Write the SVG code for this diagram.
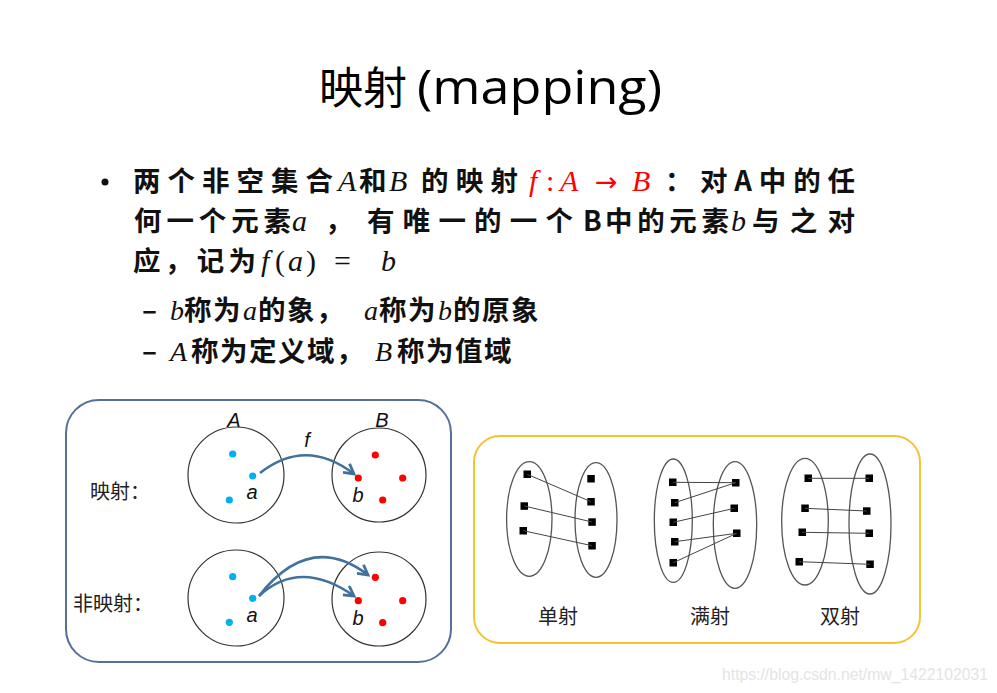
<svg xmlns="http://www.w3.org/2000/svg" width="997" height="693" viewBox="0 0 997 693">
<style>
.cjk{font-family:"Noto Sans CJK SC","Noto Sans",sans-serif;font-weight:700;}
.body{font-size:27.5px;fill:#111;}
.sub{font-size:27.5px;fill:#111;}
.m{font-family:"Liberation Serif","DejaVu Serif",serif;font-style:italic;font-weight:400;font-size:30px;}
.up{font-family:"Liberation Serif","DejaVu Serif",serif;font-style:normal;font-weight:400;font-size:30px;}
.msub{font-family:"Liberation Serif","DejaVu Serif",serif;font-style:italic;font-weight:400;font-size:28px;}
.red{fill:#ff0000;}
.lab{font-family:"Liberation Sans",Arial,sans-serif;font-style:italic;font-size:20px;fill:#111;}
.cap{font-family:"Noto Sans CJK SC",sans-serif;font-size:20px;fill:#222;}
.set{fill:none;stroke:#333;stroke-width:1.2;}
.ell{fill:none;stroke:#555;stroke-width:1.3;}
.bl{fill:#00b0f0;}
.rd{fill:#ff0000;}
.sq{fill:#000;}
.arr{fill:none;stroke:#41719c;stroke-width:2.6;marker-end:url(#ah);}
.ln{stroke:#444;stroke-width:1;}
</style>
<defs>
<marker id="ah" viewBox="0 0 12 12" refX="10" refY="6" markerWidth="13" markerHeight="13" markerUnits="userSpaceOnUse" orient="auto">
<path d="M1,1 L10,6 L1,11" fill="none" stroke="#41719c" stroke-width="2.6" stroke-linejoin="miter"/>
</marker>
</defs>
<rect width="997" height="693" fill="#fff"/>

<g id="title">
<text x="319" y="104" font-family="Noto Sans CJK SC,sans-serif" font-size="44" fill="#000">映射</text>
<text x="417" y="104" font-family="Open Sans,Liberation Sans,sans-serif" font-size="48" fill="#000" textLength="245" lengthAdjust="spacingAndGlyphs">(mapping)</text>
</g>

<g id="definition">
<circle cx="105" cy="182" r="3.5" fill="#111"/>
<text y="191" class="body">
<tspan x="133" class="cjk" textLength="200">两个非空集合</tspan>
<tspan x="338" class="m">A</tspan>
<tspan x="359" class="cjk">和</tspan>
<tspan x="389" class="m">B</tspan>
<tspan x="421" class="cjk" textLength="97">的映射</tspan>
<tspan x="529" class="m red">f</tspan>
<tspan x="546" class="up red">:</tspan>
<tspan x="560" class="m red">A</tspan>
<tspan x="595" font-family="DejaVu Sans,sans-serif" font-size="27" class="red">→</tspan>
<tspan x="632" class="m red">B</tspan>
<tspan x="665" class="cjk">：</tspan>
<tspan x="700" class="cjk" textLength="155">对A中的任</tspan>
</text>
<text y="231" class="body">
<tspan x="134" class="cjk" textLength="157">何一个元素</tspan>
<tspan x="292" class="m">a</tspan>
<tspan x="325" class="cjk">，</tspan>
<tspan x="367" class="cjk" textLength="206">有唯一的一个</tspan>
<tspan x="583" class="cjk">B</tspan>
<tspan x="605" class="cjk" textLength="124">中的元素</tspan>
<tspan x="731" class="m">b</tspan>
<tspan x="752" class="cjk" textLength="103">与之对</tspan>
</text>
<text y="271" class="body">
<tspan x="133" class="cjk" textLength="123">应，记为</tspan>
<tspan x="261" class="m">f</tspan>
<tspan x="275" class="up">(</tspan>
<tspan x="288" class="m">a</tspan>
<tspan x="306" class="up">)</tspan>
<tspan x="334" class="up">=</tspan>
<tspan x="381" class="m">b</tspan>
</text>
<text y="320" class="sub" letter-spacing="1.5">
<tspan x="142" class="cjk">–</tspan>
<tspan x="170" class="msub">b</tspan>
<tspan x="184" class="cjk">称为</tspan>
<tspan x="243" class="msub">a</tspan>
<tspan x="258" class="cjk">的象，</tspan>
<tspan x="364" class="msub">a</tspan>
<tspan x="379" class="cjk">称为</tspan>
<tspan x="438" class="msub">b</tspan>
<tspan x="453" class="cjk">的原象</tspan>
</text>
<text y="361" class="sub" letter-spacing="1.5">
<tspan x="142" class="cjk">–</tspan>
<tspan x="170" class="msub">A</tspan>
<tspan x="191" class="cjk">称为定义域，</tspan>
<tspan x="375" class="msub">B</tspan>
<tspan x="397" class="cjk">称为值域</tspan>
</text>
</g>

<g id="mapping-panel">
<rect x="66" y="400" width="385" height="262" rx="33" fill="none" stroke="#56709a" stroke-width="2"/>
</g>

<g id="map-row">
<text x="90" y="499" class="cap">映射：</text>
<text x="234" y="427" class="lab" text-anchor="middle">A</text>
<text x="382" y="427" class="lab" text-anchor="middle">B</text>
<text x="307" y="447" class="lab" text-anchor="middle">f</text>
<circle cx="236" cy="475" r="48" class="set"/>
<circle cx="379" cy="475" r="47" class="set"/>
<circle cx="232.7" cy="454" r="3.6" class="bl"/>
<circle cx="252.7" cy="476" r="3.6" class="bl"/>
<circle cx="229.3" cy="500" r="3.6" class="bl"/>
<circle cx="375.3" cy="455" r="3.6" class="rd"/>
<circle cx="358.3" cy="478" r="3.6" class="rd"/>
<circle cx="402.7" cy="478" r="3.6" class="rd"/>
<circle cx="382.7" cy="500" r="3.6" class="rd"/>
<text x="252" y="499" class="lab" text-anchor="middle">a</text>
<text x="358" y="502" class="lab" text-anchor="middle">b</text>
</g>

<g id="nonmap-row">
<text x="73" y="611" class="cap">非映射：</text>
<circle cx="236" cy="598" r="48" class="set"/>
<circle cx="379" cy="599" r="47" class="set"/>
<circle cx="232.7" cy="576.7" r="3.6" class="bl"/>
<circle cx="252.7" cy="598.3" r="3.6" class="bl"/>
<circle cx="229.3" cy="622.3" r="3.6" class="bl"/>
<circle cx="375.3" cy="577.3" r="3.6" class="rd"/>
<circle cx="358.3" cy="600.7" r="3.6" class="rd"/>
<circle cx="402.7" cy="600.7" r="3.6" class="rd"/>
<circle cx="382.7" cy="622.7" r="3.6" class="rd"/>
<text x="252" y="622" class="lab" text-anchor="middle">a</text>
<text x="358" y="625" class="lab" text-anchor="middle">b</text>
</g>

<g id="types-panel">
<rect x="474" y="436" width="446" height="207" rx="26" fill="none" stroke="#f6c235" stroke-width="2"/>
</g>

<g id="injective">
<ellipse cx="529.3" cy="519" rx="22.7" ry="57.3" class="ell"/>
<ellipse cx="596" cy="520" rx="21" ry="57.3" class="ell"/>
<rect x="523.5" y="470.5" width="7.5" height="7.5" class="sq"/>
<rect x="520.5" y="502.3" width="7.5" height="7.5" class="sq"/>
<rect x="519.5" y="527" width="7.5" height="7.5" class="sq"/>
<rect x="587.3" y="475" width="7.5" height="7.5" class="sq"/>
<rect x="587.3" y="498" width="7.5" height="7.5" class="sq"/>
<rect x="588.3" y="518.3" width="7.5" height="7.5" class="sq"/>
<rect x="588.3" y="542" width="7.5" height="7.5" class="sq"/>
<text x="558" y="624" class="cap" text-anchor="middle">单射</text>
</g>

<g id="surjective">
<ellipse cx="673.3" cy="520.7" rx="19" ry="61.7" class="ell"/>
<ellipse cx="735" cy="525" rx="21.7" ry="63.3" class="ell"/>
<rect x="669" y="478.5" width="7.5" height="7.5" class="sq"/>
<rect x="671" y="499" width="7.5" height="7.5" class="sq"/>
<rect x="669.5" y="518.5" width="7.5" height="7.5" class="sq"/>
<rect x="671" y="538" width="7.5" height="7.5" class="sq"/>
<rect x="669.5" y="559" width="7.5" height="7.5" class="sq"/>
<rect x="732" y="479" width="7.5" height="7.5" class="sq"/>
<rect x="730.5" y="504.5" width="7.5" height="7.5" class="sq"/>
<rect x="733" y="529.5" width="7.5" height="7.5" class="sq"/>
<text x="710" y="624" class="cap" text-anchor="middle">满射</text>
</g>

<g id="bijective">
<ellipse cx="805" cy="521.7" rx="23.3" ry="63.3" class="ell"/>
<ellipse cx="870" cy="524" rx="21" ry="70" class="ell"/>
<rect x="804.5" y="474.5" width="7.5" height="7.5" class="sq"/>
<rect x="801.3" y="504.5" width="7.5" height="7.5" class="sq"/>
<rect x="798.5" y="528.5" width="7.5" height="7.5" class="sq"/>
<rect x="795.5" y="558" width="7.5" height="7.5" class="sq"/>
<rect x="865.5" y="474.5" width="7.5" height="7.5" class="sq"/>
<rect x="863" y="507.3" width="7.5" height="7.5" class="sq"/>
<rect x="865.5" y="529.5" width="7.5" height="7.5" class="sq"/>
<rect x="866.3" y="560.5" width="7.5" height="7.5" class="sq"/>
<text x="840" y="624" class="cap" text-anchor="middle">双射</text>
</g>

<g id="connectors">
<path class="arr" d="M260,473 Q306,437 354,474"/>
<path class="arr" d="M259,596 Q310,531 368,575"/>
<path class="arr" d="M259,596 Q300,558 354,596"/>
<line class="ln" x1="527.3" y1="474.3" x2="591" y2="501.7"/>
<line class="ln" x1="524.3" y1="506" x2="592" y2="522"/>
<line class="ln" x1="523.3" y1="530.7" x2="592" y2="545.7"/>
<line class="ln" x1="672.7" y1="482.3" x2="735.7" y2="482.7"/>
<line class="ln" x1="674.7" y1="502.7" x2="735.7" y2="482.7"/>
<line class="ln" x1="673.3" y1="522.3" x2="734.3" y2="508.3"/>
<line class="ln" x1="674.7" y1="541.7" x2="736.7" y2="533.3"/>
<line class="ln" x1="673.3" y1="562.7" x2="736.7" y2="533.3"/>
<line class="ln" x1="808.3" y1="478.3" x2="869.3" y2="478.3"/>
<line class="ln" x1="805" y1="508.3" x2="866.7" y2="511"/>
<line class="ln" x1="802.3" y1="532.3" x2="869.3" y2="533.3"/>
<line class="ln" x1="799.3" y1="561.7" x2="870" y2="564.3"/>
</g>

<text x="722" y="680" font-family="Liberation Sans,Arial,sans-serif" font-size="16" fill="#e4e4e4" textLength="266" lengthAdjust="spacingAndGlyphs">https://blog.csdn.net/mw_1422102031</text>
</svg>
